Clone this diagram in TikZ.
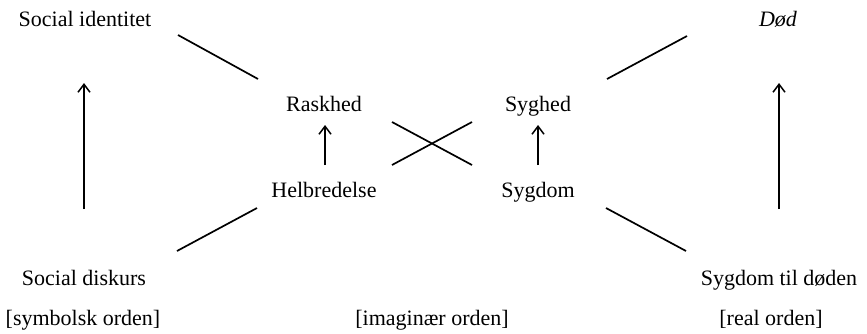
\documentclass[tikz,border=0pt]{standalone}
\usepackage{fontspec}
\setmainfont{Liberation Serif}
\usetikzlibrary{arrows.meta}
\begin{document}
\begin{tikzpicture}[x=1pt,y=-1pt,
  lbl/.style={inner sep=0pt,anchor=base,font=\fontsize{22}{26}\selectfont},
  link/.style={line width=1.7pt},
  uparrow/.style={line width=1.5pt,-{Straight Barb[length=8pt,width=12pt,line width=1.5pt]}}]
\useasboundingbox (0,0) rectangle (867,333);
% labels
\node[lbl] (si) at (85,26) {Social identitet};
\node[lbl] (dod) at (778,26) {\itshape Død};
\node[lbl] (ras) at (324,111) {Raskhed};
\node[lbl] (syh) at (538,111) {Syghed};
\node[lbl] (hel) at (324,197) {Helbredelse};
\node[lbl] (syg) at (538,197) {Sygdom};
\node[lbl] (sd) at (84,285) {Social diskurs};
\node[lbl] (std) at (779,285) {Sygdom til døden};
\node[lbl] (so) at (83,325) {[symbolsk orden]};
\node[lbl] (io) at (432,325) {[imaginær orden]};
\node[lbl] (ro) at (771,325) {[real orden]};
% line end points
\coordinate (a1) at (178,35);  \coordinate (a2) at (258,79);
\coordinate (b1) at (607,79);  \coordinate (b2) at (687,36);
\coordinate (c1) at (177,251); \coordinate (c2) at (257,208);
\coordinate (d1) at (606,208); \coordinate (d2) at (686,251);
\coordinate (x1) at (392,122); \coordinate (x2) at (472,165);
\coordinate (x3) at (392,165); \coordinate (x4) at (472,122);
\coordinate (l1) at (84,209);  \coordinate (l2) at (84,83);
\coordinate (r1) at (779,209); \coordinate (r2) at (779,83);
\coordinate (m1) at (325,165); \coordinate (m2) at (325,125);
\coordinate (n1) at (538,165); \coordinate (n2) at (538,125);
% connectors
\draw[link] (a1) -- (a2);
\draw[link] (b1) -- (b2);
\draw[link] (c1) -- (c2);
\draw[link] (d1) -- (d2);
\draw[link] (x1) -- (x2);
\draw[link] (x3) -- (x4);
\draw[uparrow] (l1) -- (l2);
\draw[uparrow] (r1) -- (r2);
\draw[uparrow] (m1) -- (m2);
\draw[uparrow] (n1) -- (n2);
\end{tikzpicture}
\end{document}
